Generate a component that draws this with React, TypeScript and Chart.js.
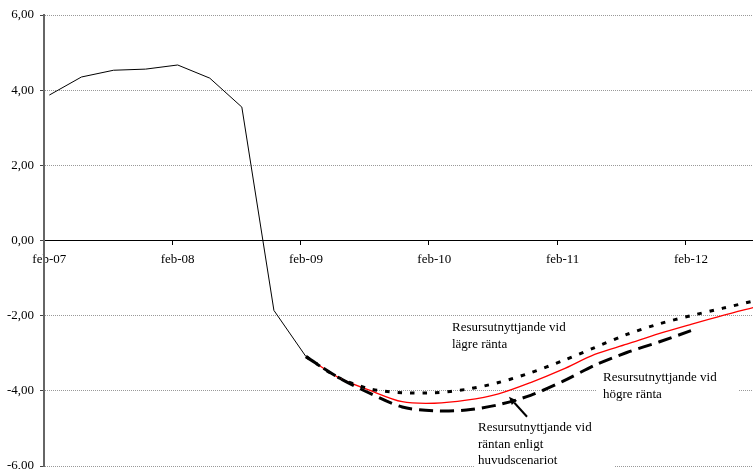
import React, { useEffect, useRef } from 'react';
import { Chart, registerables } from 'chart.js';

Chart.register(...registerables);

// Quarterly observations (Feb-07 .. Aug-12)
const quarterLabels = [
  'feb-07', 'maj-07', 'aug-07', 'nov-07',
  'feb-08', 'maj-08', 'aug-08', 'nov-08',
  'feb-09', 'maj-09', 'aug-09', 'nov-09',
  'feb-10', 'maj-10', 'aug-10', 'nov-10',
  'feb-11', 'maj-11', 'aug-11', 'nov-11',
  'feb-12', 'maj-12', 'aug-12',
];

const xTickLabels = ['feb-07', 'feb-08', 'feb-09', 'feb-10', 'feb-11', 'feb-12'];
const yTickValues = [-6, -4, -2, 0, 2, 4, 6];

const historical = [
  3.87, 4.35, 4.53, 4.56, 4.67, 4.32, 3.55, -1.86, -3.09,
  null, null, null, null, null, null, null, null, null, null, null, null, null, null,
];
const higherRate = [
  null, null, null, null, null, null, null, null,
  -3.09, -3.64, -4.07, -4.43, -4.53, -4.51, -4.37, -4.12, -3.75, -3.32, -2.98, -2.70, -2.40,
  null, null,
];
const lowerRate = [
  null, null, null, null, null, null, null, null,
  -3.09, -3.64, -3.95, -4.05, -4.05, -3.96, -3.78, -3.52, -3.20, -2.85, -2.50, -2.22, -2.00, -1.80, -1.60,
];
const mainScenario = [
  null, null, null, null, null, null, null, null,
  -3.09, -3.64, -3.99, -4.29, -4.33, -4.25, -4.08, -3.78, -3.43, -3.03, -2.76, -2.48, -2.23, -1.99, -1.77,
];

const FONT = '"Liberation Serif", "Times New Roman", serif';

// month index (0 = start of Feb-07); each quarterly point sits mid-month
const toPoints = (values: (number | null)[]) =>
  quarterLabels.map((_, i) => ({ x: i * 3 + 0.5, y: values[i] }));

type Note = {
  lines: string[];
  x: number;
  y: number;
  box?: [number, number, number, number];
};

const notes: Note[] = [
  { lines: ['Resursutnyttjande vid', 'lägre ränta'], x: 38.15, y: -2.32 },
  { lines: ['Resursutnyttjande vid', 'högre ränta'], x: 52.27, y: -3.66, box: [-6, -8, 142, 35] },
  {
    lines: ['Resursutnyttjande vid', 'räntan enligt', 'huvudscenariot'],
    x: 40.58,
    y: -4.99,
    box: [-4, -8, 140, 52],
  },
];
const arrow = { from: { x: 45.17, y: -4.69 }, to: { x: 43.48, y: -4.16 } };

const notesPlugin = {
  id: 'notes',
  beforeDatasetsDraw(chart: any) {
    const { ctx, scales } = chart;
    ctx.save();
    ctx.fillStyle = '#ffffff';
    for (const n of notes) {
      if (!n.box) continue;
      const px = scales.x.getPixelForValue(n.x);
      const py = scales.y.getPixelForValue(n.y);
      ctx.fillRect(px + n.box[0], py + n.box[1], n.box[2], n.box[3]);
    }
    ctx.restore();
  },
  afterDatasetsDraw(chart: any) {
    const { ctx, scales } = chart;
    ctx.save();
    ctx.font = `13px ${FONT}`;
    ctx.fillStyle = '#000';
    ctx.textAlign = 'left';
    ctx.textBaseline = 'middle';
    for (const n of notes) {
      const px = scales.x.getPixelForValue(n.x);
      const py = scales.y.getPixelForValue(n.y);
      n.lines.forEach((t, i) => ctx.fillText(t, px, py + i * 16.5));
    }
    // arrow
    const x1 = scales.x.getPixelForValue(arrow.from.x);
    const y1 = scales.y.getPixelForValue(arrow.from.y);
    const x2 = scales.x.getPixelForValue(arrow.to.x);
    const y2 = scales.y.getPixelForValue(arrow.to.y);
    const ang = Math.atan2(y2 - y1, x2 - x1);
    const head = 8;
    const hw = 3.5;
    const bx = x2 - head * Math.cos(ang);
    const by = y2 - head * Math.sin(ang);
    ctx.strokeStyle = '#000';
    ctx.lineWidth = 2;
    ctx.beginPath();
    ctx.moveTo(x1, y1);
    ctx.lineTo(bx, by);
    ctx.stroke();
    ctx.beginPath();
    ctx.moveTo(x2, y2);
    ctx.lineTo(bx + hw * Math.sin(ang), by - hw * Math.cos(ang));
    ctx.lineTo(bx - hw * Math.sin(ang), by + hw * Math.cos(ang));
    ctx.closePath();
    ctx.fill();
    ctx.restore();
  },
};

export default function App() {
  const canvasRef = useRef<HTMLCanvasElement | null>(null);

  useEffect(() => {
    const canvas = canvasRef.current;
    if (!canvas) return;
    const chart = new Chart(canvas, {
      type: 'line',
      data: {
        datasets: [
          {
            label: 'Historik',
            data: toPoints(historical),
            borderColor: '#000',
            borderWidth: 1,
            pointRadius: 0,
            tension: 0,
          },
          {
            label: 'Resursutnyttjande vid högre ränta',
            data: toPoints(higherRate),
            borderColor: '#000',
            borderWidth: 3,
            borderDash: [14, 7],
            pointRadius: 0,
            tension: 0.3,
          },
          {
            label: 'Resursutnyttjande vid lägre ränta',
            data: toPoints(lowerRate),
            borderColor: '#000',
            borderWidth: 3,
            borderDash: [4.5, 8],
            pointRadius: 0,
            tension: 0.3,
          },
          {
            label: 'Resursutnyttjande vid räntan enligt huvudscenariot',
            data: toPoints(mainScenario),
            borderColor: '#ff0000',
            borderWidth: 1.3,
            pointRadius: 0,
            tension: 0.3,
          },
        ],
      },
      options: {
        responsive: false,
        animation: false,
        events: [],
        layout: { padding: { top: 15, bottom: 3, left: 0, right: 0 } },
        plugins: { legend: { display: false }, tooltip: { enabled: false } },
        scales: {
          x: {
            type: 'linear',
            position: { y: 0 } as any,
            min: 0,
            max: 66.3,
            afterBuildTicks: (scale: any) => {
              scale.ticks = xTickLabels.map((_, i) => ({ value: i * 12 }));
            },
            afterFit: (scale: any) => {
              scale.height = 0;
              scale.paddingLeft = 0;
              scale.paddingRight = 0;
            },
            ticks: {
              autoSkip: false,
              maxRotation: 0,
              minRotation: 0,
              labelOffset: 5.3,
              padding: 7,
              color: '#000',
              font: { family: FONT, size: 13 },
              callback: (v: any) => xTickLabels[Math.round(Number(v) / 12)] ?? '',
            },
            grid: {
              drawOnChartArea: false,
              drawTicks: true,
              tickLength: 4,
              tickColor: '#000',
            },
            border: { display: true, color: '#000', width: 1 },
          },
          y: {
            type: 'linear',
            min: -6,
            max: 6,
            afterBuildTicks: (scale: any) => {
              scale.ticks = yTickValues.map((v) => ({ value: v }));
            },
            afterFit: (scale: any) => {
              scale.width = 44;
              scale.paddingTop = 0;
              scale.paddingBottom = 0;
            },
            ticks: {
              padding: 6,
              color: '#000',
              font: { family: FONT, size: 13 },
              callback: (v: any) => Number(v).toFixed(2).replace('.', ','),
            },
            grid: {
              color: '#999',
              lineWidth: 1,
              drawTicks: true,
              tickLength: 4,
              tickColor: '#444',
            },
            border: { display: true, color: '#666', width: 2, dash: [1, 1] },
          },
        },
      },
      plugins: [notesPlugin],
    });
    return () => chart.destroy();
  }, []);

  return (
    <div style={{ position: 'absolute', left: 0, top: 0, width: 753, height: 469, background: '#fff' }}>
      <canvas ref={canvasRef} width={753} height={469} style={{ display: 'block', width: 753, height: 469 }} />
    </div>
  );
}
